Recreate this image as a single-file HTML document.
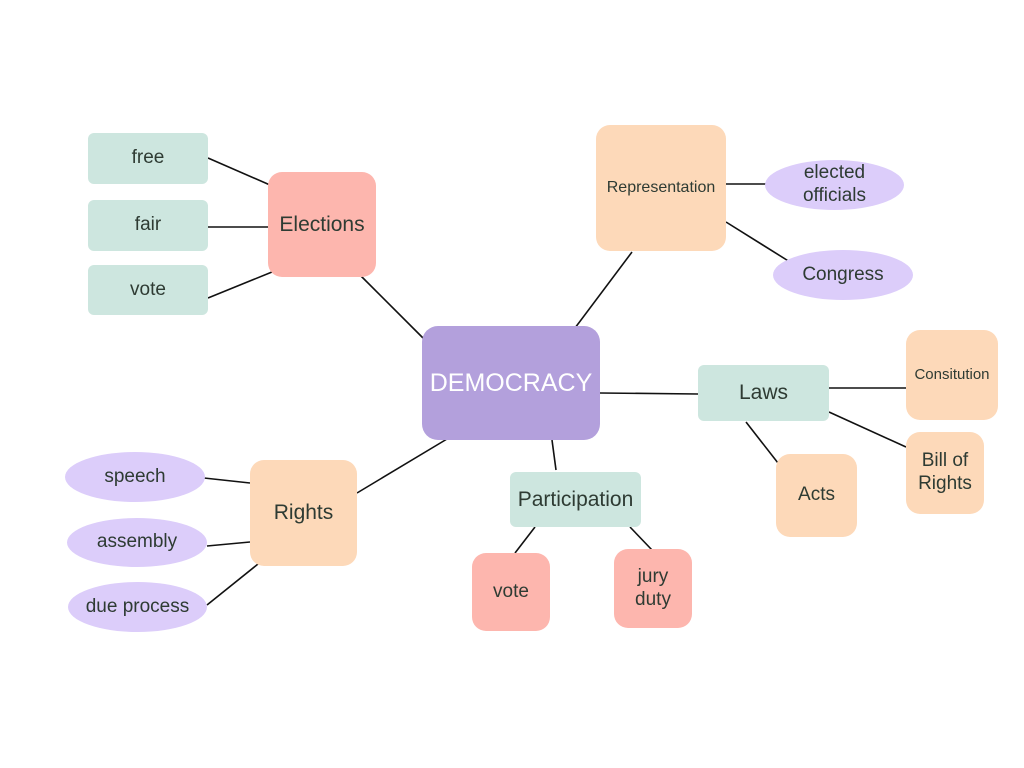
<!DOCTYPE html>
<html><head><meta charset="utf-8"><style>
body{margin:0;width:1024px;height:768px;background:#fff;position:relative;overflow:hidden;font-family:"Liberation Sans",sans-serif;}
.n{position:absolute;display:flex;align-items:center;justify-content:center;text-align:center;color:#2e3b33;font-size:19px;line-height:1.2;}
.m{background:#cde6df;border-radius:6px}
.s{background:#fdb6ae;border-radius:14px}
.p{background:#fdd9b9;border-radius:14px}
.l{background:#dccdfa;border-radius:50%}
svg{position:absolute;left:0;top:0}
</style></head><body>
<svg width="1024" height="768" stroke="#111" stroke-width="1.6">
<line x1="208" y1="158" x2="270" y2="185"/>
<line x1="208" y1="227" x2="268" y2="227"/>
<line x1="208" y1="298" x2="272" y2="272"/>
<line x1="360" y1="275" x2="425" y2="340"/>
<line x1="632" y1="252" x2="575" y2="328"/>
<line x1="726" y1="184" x2="767" y2="184"/>
<line x1="726" y1="222" x2="790" y2="262"/>
<line x1="600" y1="393" x2="698" y2="394"/>
<line x1="829" y1="388" x2="906" y2="388"/>
<line x1="829" y1="412" x2="906" y2="447"/>
<line x1="746" y1="422" x2="778" y2="463"/>
<line x1="552" y1="440" x2="556" y2="470"/>
<line x1="535" y1="527" x2="515" y2="553"/>
<line x1="630" y1="527" x2="652" y2="550"/>
<line x1="447" y1="439" x2="357" y2="493"/>
<line x1="250" y1="483" x2="204" y2="478"/>
<line x1="250" y1="542" x2="207" y2="546"/>
<line x1="258" y1="564" x2="207" y2="605"/>
</svg>
<div class="n m" style="left:88px;top:133px;width:120px;height:51px">free</div>
<div class="n m" style="left:88px;top:200px;width:120px;height:51px">fair</div>
<div class="n m" style="left:88px;top:265px;width:120px;height:50px">vote</div>
<div class="n s" style="left:268px;top:172px;width:108px;height:105px;font-size:21px">Elections</div>
<div class="n p" style="left:596px;top:125px;width:130px;height:126px;font-size:16px">Representation</div>
<div class="n l" style="left:765px;top:160px;width:139px;height:50px">elected<br>officials</div>
<div class="n l" style="left:773px;top:250px;width:140px;height:50px">Congress</div>
<div class="n" style="left:422px;top:326px;width:178px;height:114px;background:#b3a0dc;border-radius:16px;color:#fff;font-size:25px">DEMOCRACY</div>
<div class="n m" style="left:698px;top:365px;width:131px;height:56px;font-size:21px">Laws</div>
<div class="n p" style="left:906px;top:330px;width:92px;height:90px;font-size:15px">Consitution</div>
<div class="n p" style="left:906px;top:432px;width:78px;height:82px">Bill of<br>Rights</div>
<div class="n p" style="left:776px;top:454px;width:81px;height:83px">Acts</div>
<div class="n m" style="left:510px;top:472px;width:131px;height:55px;font-size:21px">Participation</div>
<div class="n s" style="left:472px;top:553px;width:78px;height:78px">vote</div>
<div class="n s" style="left:614px;top:549px;width:78px;height:79px">jury<br>duty</div>
<div class="n p" style="left:250px;top:460px;width:107px;height:106px;font-size:21px">Rights</div>
<div class="n l" style="left:65px;top:452px;width:140px;height:50px">speech</div>
<div class="n l" style="left:67px;top:518px;width:140px;height:49px">assembly</div>
<div class="n l" style="left:68px;top:582px;width:139px;height:50px">due process</div>
</body></html>
